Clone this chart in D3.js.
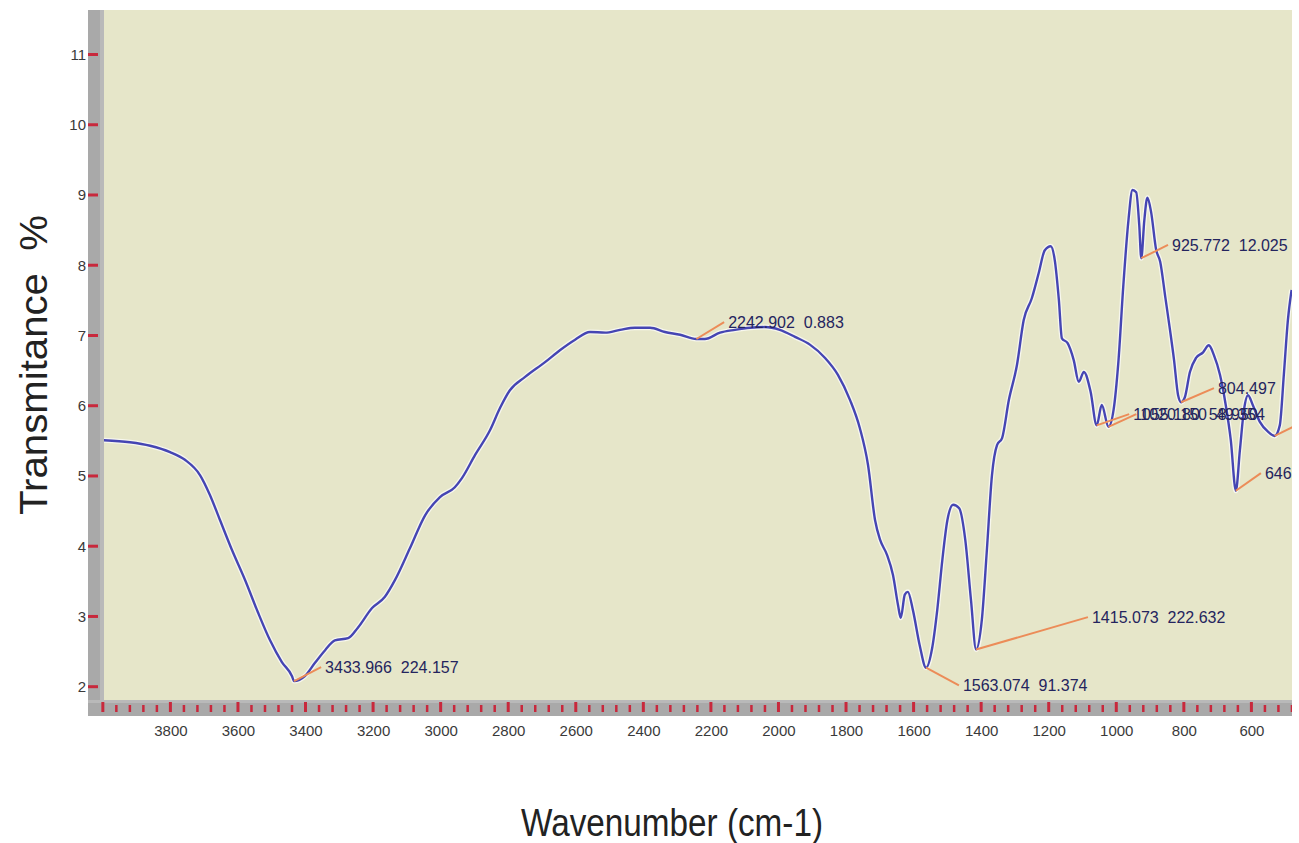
<!DOCTYPE html>
<html><head><meta charset="utf-8">
<script src="https://cdn.jsdelivr.net/npm/d3@7"></script>
<style>body{margin:0;background:#fff} svg{display:block} .ann{white-space:pre}</style>
</head><body><svg id="c" width="1299" height="843"></svg>
<script>
// ---- data ----
const wavenumbers = [4000,3920,3860,3801,3757,3712,3683,3653,3618,3579,3541,3505,3470,3440,3434,3402,3372,3342,3313,3274,3245,3203,3165,3135,3091,3046,3002,2958,2937,2898,2854,2824,2795,2750,2691,2647,2602,2558,2513,2469,2425,2380,2336,2291,2243,2218,2173,2129,2084,2040,1996,1951,1907,1862,1824,1788,1759,1735,1714,1699,1679,1661,1646,1638,1626,1617,1602,1582,1563,1545,1530,1515,1500,1483,1465,1447,1430,1415,1398,1383,1368,1353,1338,1318,1294,1274,1250,1229,1212,1194,1182,1170,1161,1144,1126,1111,1096,1076,1058,1043,1023,1008,994,979,964,952,941,932,926,917,908,897,882,870,855,841,829,817,808,797,782,764,743,726,711,693,676,661,646,634,622,610,596,575,551,531,516,504,492,481];
const transmittance = [5.51,5.48,5.43,5.34,5.23,5.01,4.73,4.37,3.95,3.52,3.06,2.66,2.35,2.15,2.08,2.15,2.34,2.52,2.66,2.69,2.84,3.12,3.28,3.52,3.97,4.44,4.70,4.84,4.97,5.30,5.65,5.97,6.22,6.41,6.62,6.79,6.94,7.05,7.04,7.08,7.11,7.11,7.05,7.01,6.95,6.95,7.04,7.08,7.11,7.12,7.08,6.98,6.87,6.68,6.44,6.08,5.68,5.16,4.37,4.09,3.88,3.59,3.16,2.98,3.31,3.35,3.09,2.59,2.27,2.55,3.09,3.80,4.37,4.59,4.54,4.09,3.23,2.53,2.95,3.95,5.01,5.44,5.54,6.08,6.58,7.22,7.53,7.90,8.21,8.27,8.07,7.51,6.96,6.89,6.65,6.34,6.48,6.20,5.72,6.01,5.70,5.94,6.61,7.72,8.64,9.07,9.04,8.57,8.10,8.64,8.96,8.76,8.22,8.05,7.55,7.08,6.65,6.15,6.05,6.12,6.48,6.68,6.76,6.86,6.72,6.44,6.01,5.51,4.79,5.37,5.94,6.15,6.01,5.77,5.63,5.57,5.72,6.44,7.22,7.65];

const yTickValues = [2,3,4,5,6,7,8,9,10,11];
const xTickLabels = [3800,3600,3400,3200,3000,2800,2600,2400,2200,2000,1800,1600,1400,1200,1000,800,600];

// peak annotations: marked point, label anchor (data units), label text
const peakWn    = [3433.966, 2242.902, 1563.074, 1415.073, 1058, 1023, 925.772, 808, 646, 531];
const peakT     = [2.08, 6.95, 2.27, 2.53, 5.72, 5.70, 8.10, 6.05, 4.79, 5.57];
const labelWn   = [3342, 2149, 1454, 1072, 950, 929, 835, 699, 560, 456];
const labelT    = [2.28, 7.19, 2.02, 2.99, 5.88, 5.88, 8.29, 6.25, 5.04, 5.72];
const peakText  = ["3433.966  224.157","2242.902  0.883","1563.074  91.374","1415.073  222.632",
                   "1055.180  58.950","1020.150  49.354","925.772  12.025","804.497","646.158  28.447","531.240  22.418"];

// ---- drawing ----
const svg = d3.select("#c");
const plotL = 104, plotR = 1292, plotT = 10, plotB = 700;
const x = d3.scaleLinear().domain([3800, 600]).range([170.4, 1251.4]);
const y = d3.scaleLinear().domain([2, 11]).range([686.7, 54.5]);

svg.append("rect").attr("width",1299).attr("height",843).attr("fill","#fff");
svg.append("rect").attr("x",plotL).attr("y",plotT).attr("width",plotR-plotL).attr("height",plotB-plotT).attr("fill","#e6e6c9");
svg.append("rect").attr("x",88).attr("y",plotT).attr("width",plotL-88).attr("height",716-plotT).attr("fill","#a9a9a9");
svg.append("rect").attr("x",88).attr("y",plotB).attr("width",plotR-88).attr("height",16).attr("fill","#a9a9a9");
svg.append("rect").attr("x",100).attr("y",plotT).attr("width",4).attr("height",plotB-plotT).attr("fill","#b9b9b9");
svg.append("rect").attr("x",88).attr("y",plotB).attr("width",plotR-88).attr("height",3).attr("fill","#b9b9b9");

const defs = svg.append("defs");
defs.append("clipPath").attr("id","clip").append("rect")
  .attr("x",plotL).attr("y",plotT).attr("width",plotR-plotL).attr("height",plotB-plotT);
defs.append("clipPath").attr("id","clipAll").append("rect")
  .attr("x",0).attr("y",0).attr("width",plotR).attr("height",843);

const tickFont = "'Liberation Sans Narrow','Arial Narrow','Liberation Sans',sans-serif";

// Y axis
const yAxis = d3.axisLeft(y).tickValues(yTickValues).tickSize(0).tickPadding(0).tickFormat(d3.format("d"));
const gy = svg.append("g").attr("transform","translate(86,0)").call(yAxis);
gy.select(".domain").remove();
gy.selectAll("text").attr("font-family",tickFont).attr("font-size",15).attr("fill","#3a3a3a");
svg.append("g").selectAll("line").data(yTickValues).join("line")
  .attr("x1",88).attr("x2",98).attr("y1",d=>y(d)).attr("y2",d=>y(d))
  .attr("stroke","#c8283c").attr("stroke-width",3);

// X axis
const xAxis = d3.axisBottom(x).tickValues(xTickLabels).tickSize(0).tickPadding(0).tickFormat(d3.format("d"));
const gx = svg.append("g").attr("transform","translate(0,725)").call(xAxis);
gx.select(".domain").remove();
gx.selectAll("text").attr("font-family",tickFont).attr("font-size",15).attr("fill","#3a3a3a");
const xt = svg.append("g").attr("clip-path","url(#clipAll)");
const minor = d3.range(4000, 399, -40);
xt.selectAll("line").data(minor).join("line")
  .attr("x1",d=>x(d)).attr("x2",d=>x(d))
  .attr("y1",d=>d%200===0?702:705).attr("y2",712)
  .attr("stroke","#c8283c").attr("stroke-width",d=>d%200===0?3:2.5);

// curve
const line = d3.line().x((d,i)=>x(wavenumbers[i])).y(d=>y(d)).curve(d3.curveMonotoneX);
const pg = svg.append("g").attr("clip-path","url(#clip)");
pg.append("path").datum(transmittance).attr("d",line).attr("fill","none")
  .attr("stroke","#f7f7ee").attr("stroke-width",5).attr("stroke-linejoin","round");
pg.append("path").datum(transmittance).attr("d",line).attr("fill","none")
  .attr("stroke","#4545b3").attr("stroke-width",2.4).attr("stroke-linejoin","round");

// annotations
const ann = svg.append("g").attr("clip-path","url(#clip)");
peakWn.forEach((w,i)=>{
  const px = x(w), py = y(peakT[i]);
  const lx = x(labelWn[i]), ly = y(labelT[i]);
  ann.append("line").attr("x1",px).attr("y1",py).attr("x2",lx-4).attr("y2",ly)
    .attr("stroke","#ec8c58").attr("stroke-width",2);
  ann.append("text").attr("class","ann").attr("xml:space","preserve")
    .attr("x",lx).attr("y",ly).attr("dy","0.36em")
    .attr("font-family","'Liberation Sans',Arial,sans-serif").attr("font-size",16)
    .attr("fill","#24245e").text(peakText[i]);
});

// axis titles
svg.append("text").attr("x",672).attr("y",836).attr("text-anchor","middle")
  .attr("font-family","'Liberation Sans',Arial,sans-serif").attr("font-size",38)
  .attr("textLength",302).attr("lengthAdjust","spacingAndGlyphs")
  .attr("fill","#222").text("Wavenumber (cm-1)");
svg.append("text").attr("class","ann").attr("transform","translate(47,365) rotate(-90)").attr("text-anchor","middle")
  .attr("font-family","'Liberation Sans',Arial,sans-serif").attr("font-size",38)
  .attr("textLength",300).attr("lengthAdjust","spacingAndGlyphs")
  .attr("fill","#222").text("Transmitance  %");
</script></body></html>
